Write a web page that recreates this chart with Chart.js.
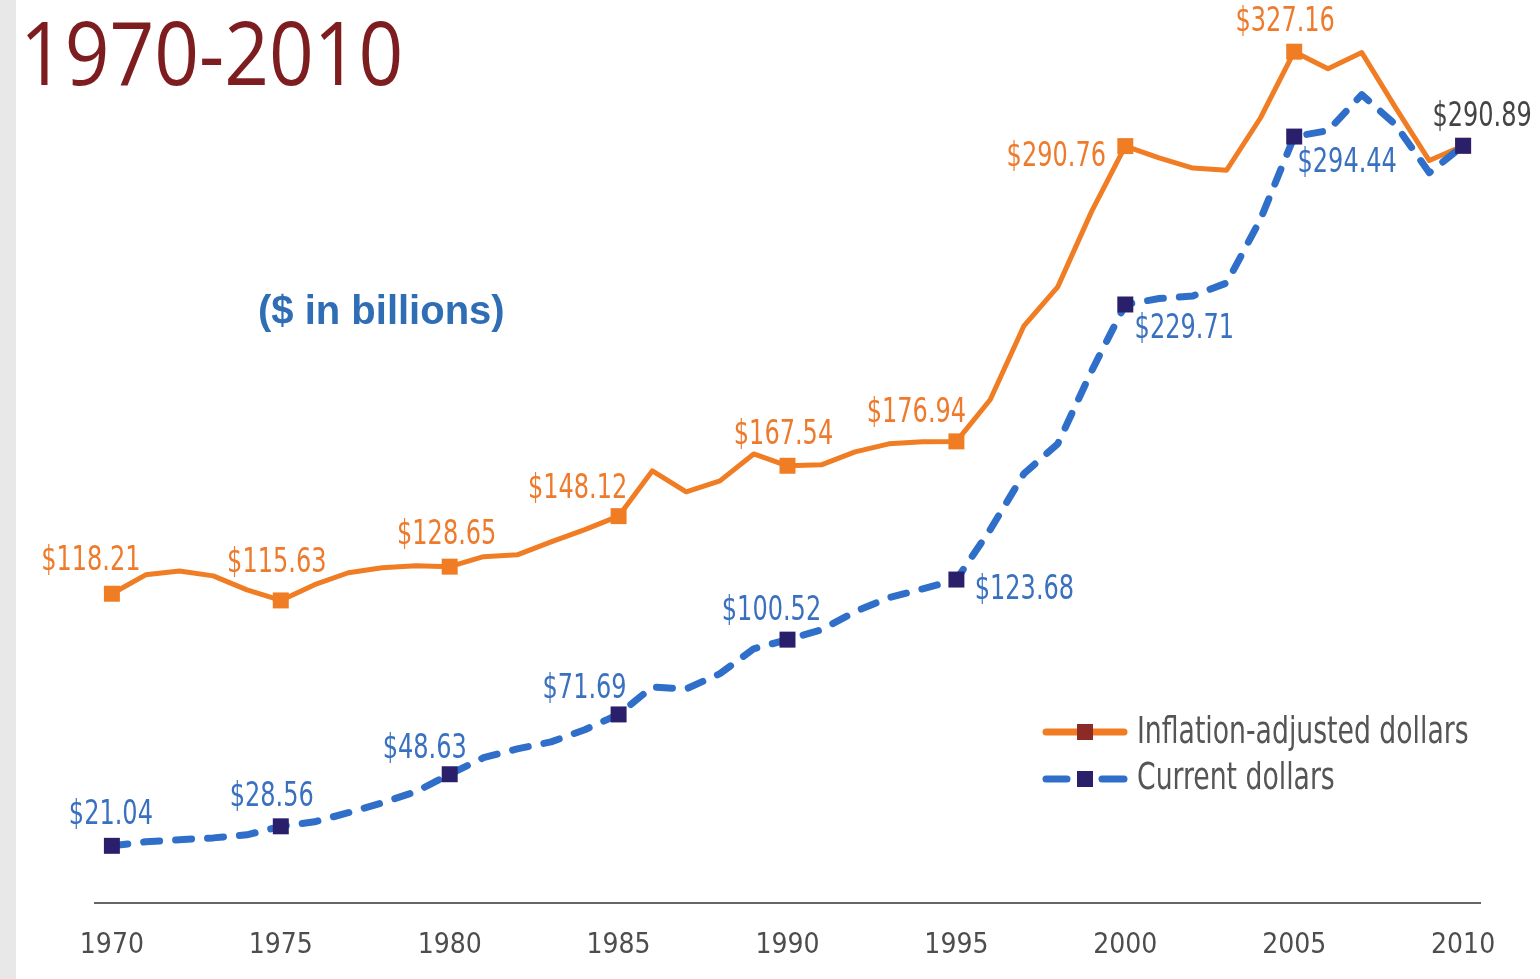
<!DOCTYPE html>
<html>
<head>
<meta charset="utf-8">
<script src="https://cdn.jsdelivr.net/npm/chart.js@4.4.1/dist/chart.umd.min.js"></script>
<style>
  body { margin: 0; background: #fff; }
  #wrap { position: relative; width: 1540px; height: 979px; overflow: hidden; }
  #strip { position: absolute; left: 0; top: 0; width: 16px; height: 979px; background: #e8e8e8; }
  #myChart { position: absolute; left: 0; top: 0; }
  #title { position: absolute; left: 20px; top: 8px; font-family: "Open Sans", "Noto Sans", sans-serif; font-size: 87px; line-height: 87px; color: #7d1d1f; transform-origin: 0 0; transform: scaleX(0.9); white-space: nowrap; }
  #unit { position: absolute; left: 258px; top: 290px; font-family: "Liberation Sans", Arial, sans-serif; font-weight: bold; font-size: 40px; line-height: 40px; color: #2f6db5; white-space: nowrap; }
</style>
</head>
<body>
<div id="wrap">
  <div id="strip"></div>
  <canvas id="myChart" width="1540" height="979"></canvas>
  <div id="title">1970-2010</div>
  <div id="unit">($ in billions)</div>
</div>
<script>
// values ($ in billions)
var years = [1970, 1971, 1972, 1973, 1974, 1975, 1976, 1977, 1978, 1979,
             1980, 1981, 1982, 1983, 1984, 1985, 1986, 1987, 1988, 1989,
             1990, 1991, 1992, 1993, 1994, 1995, 1996, 1997, 1998, 1999,
             2000, 2001, 2002, 2003, 2004, 2005, 2006, 2007, 2008, 2009, 2010];

var adjusted = [118.21, 125.5, 127.0, 125.1, 119.7, 115.63, 121.7, 126.3, 128.2, 129.0,
                128.65, 132.5, 133.2, 138.2, 142.9, 148.12, 165.6, 157.5, 161.7, 172.1,
                167.54, 167.9, 172.9, 176.0, 176.8, 176.94, 193.0, 221.5, 236.5, 265.5,
                290.76, 286.2, 282.3, 281.5, 301.6, 327.16, 320.6, 326.8, 305.6, 285.2, 290.89];

var current = [21.04, 22.6, 23.4, 24.1, 25.3, 28.56, 30.3, 33.8, 37.6, 41.9,
               48.63, 55.0, 58.4, 61.1, 65.8, 71.69, 82.3, 81.5, 87.4, 97.0,
               100.52, 104.3, 111.3, 116.7, 120.1, 123.68, 142.9, 164.5, 176.0, 204.0,
               229.71, 232.0, 233.0, 238.0, 262.5, 294.44, 296.7, 310.6, 299.0, 280.5, 290.89];

var markYears = [1970, 1975, 1980, 1985, 1990, 1995, 2000, 2005, 2010];
var xTicks = [1970, 1975, 1980, 1985, 1990, 1995, 2000, 2005, 2010];
var seriesNames = ["Inflation-adjusted dollars", "Current dollars"];

var orange = "#f07d23";
var blue = "#2f6fca";
var navy = "#2a1f6b";
var narrow = '"Liberation Sans Narrow", "DejaVu Sans Condensed", "Liberation Sans", sans-serif';

// where each value label sits, relative to its point
var labelSpots = [
  {set: 0, year: 1970, dx: -21, dy: -32},
  {set: 0, year: 1975, dx: -4, dy: -37},
  {set: 0, year: 1980, dx: -3, dy: -31},
  {set: 0, year: 1985, dx: -41, dy: -27},
  {set: 0, year: 1990, dx: -4, dy: -30},
  {set: 0, year: 1995, dx: -40, dy: -28},
  {set: 0, year: 2000, dx: -69, dy: 11},
  {set: 0, year: 2005, dx: -9, dy: -29},
  {set: 1, year: 1970, dx: -1, dy: -30},
  {set: 1, year: 1975, dx: -9, dy: -29},
  {set: 1, year: 1980, dx: -25, dy: -25},
  {set: 1, year: 1985, dx: -34, dy: -25},
  {set: 1, year: 1990, dx: -16, dy: -28},
  {set: 1, year: 1995, dx: 68, dy: 11},
  {set: 1, year: 2000, dx: 59, dy: 25},
  {set: 1, year: 2005, dx: 53, dy: 27},
  {set: 1, year: 2010, dx: 19, dy: -28, color: "#444444"}
];

function pts(vals) {
  return years.map(function (y, i) { return {x: y, y: vals[i]}; });
}
function markRadius(ctx) {
  return markYears.indexOf(years[ctx.dataIndex]) >= 0 ? 11.3 : 0;
}
// squeezed text, to get the condensed look of the original
function squeezed(c, text, x, y, sx) {
  c.save();
  c.translate(x, y);
  c.scale(sx, 1);
  c.fillText(text, 0, 0);
  c.restore();
}

var extras = {
  id: "extras",
  afterDatasetsDraw: function (chart) {
    var c = chart.ctx, xs = chart.scales.x, ys = chart.scales.y;
    c.save();
    c.font = "33px " + narrow;
    c.textAlign = "center";
    c.textBaseline = "middle";
    labelSpots.forEach(function (s) {
      var vals = s.set == 0 ? adjusted : current;
      var v = vals[years.indexOf(s.year)];
      c.fillStyle = s.color || (s.set == 0 ? "#ee7a2c" : "#3a70c0");
      squeezed(c, "$" + v.toFixed(2), xs.getPixelForValue(s.year) + s.dx, ys.getPixelForValue(v) + s.dy, 0.81);
    });

    // legend
    c.lineCap = "round";
    c.lineWidth = 7;
    c.strokeStyle = orange;
    c.beginPath(); c.moveTo(1046, 732); c.lineTo(1124, 732); c.stroke();
    c.fillStyle = "#8b2a26";
    c.fillRect(1077, 724, 16, 16);
    c.strokeStyle = blue;
    c.beginPath(); c.moveTo(1046, 779); c.lineTo(1067, 779); c.stroke();
    c.beginPath(); c.moveTo(1102, 779); c.lineTo(1124, 779); c.stroke();
    c.fillStyle = navy;
    c.fillRect(1077, 771, 16, 16);
    c.font = "38px " + narrow;
    c.textAlign = "left";
    c.fillStyle = "#555555";
    squeezed(c, seriesNames[0], 1137, 733, 0.78);
    squeezed(c, seriesNames[1], 1137, 779, 0.78);
    c.restore();
  }
};

var ctx = document.getElementById("myChart");

var myChart = new Chart(ctx, {
  type: "line",
  data: {
    datasets: [
      {
        label: seriesNames[0],
        data: pts(adjusted),
        borderColor: orange,
        backgroundColor: orange,
        borderWidth: 5,
        borderJoinStyle: "round",
        pointStyle: "rect",
        pointRadius: markRadius,
        pointBorderWidth: 0,
        pointBackgroundColor: orange,
        fill: false,
        tension: 0,
        clip: false,
        order: 2
      },
      {
        label: seriesNames[1],
        data: pts(current),
        borderColor: blue,
        backgroundColor: navy,
        borderWidth: 7,
        borderDash: [16, 16],
        borderCapStyle: "round",
        borderJoinStyle: "round",
        pointStyle: "rect",
        pointRadius: markRadius,
        pointBorderWidth: 0,
        pointBackgroundColor: navy,
        fill: false,
        tension: 0,
        clip: false,
        order: 1
      }
    ]
  },
  options: {
    responsive: false,
    animation: false,
    events: [],
    layout: { padding: { left: 95, right: 60, top: 15, bottom: 0 } },
    plugins: { legend: { display: false }, tooltip: { enabled: false } },
    scales: {
      x: {
        type: "linear",
        min: 1969.5,
        max: 2010.5,
        afterBuildTicks: function (scale) {
          scale.ticks = xTicks.map(function (v) { return {value: v}; });
        },
        afterFit: function (scale) { scale.height = 76; },
        grid: { display: false },
        border: { display: true, color: "#666666", width: 2 },
        ticks: {
          autoSkip: false,
          maxRotation: 0,
          padding: 18,
          color: "#4d4d4d",
          font: { family: narrow, size: 28 },
          callback: function (v) { return String(v); }
        }
      },
      y: {
        display: false,
        min: -1,
        max: 341.3
      }
    }
  },
  plugins: [extras]
});
</script>
</body>
</html>
